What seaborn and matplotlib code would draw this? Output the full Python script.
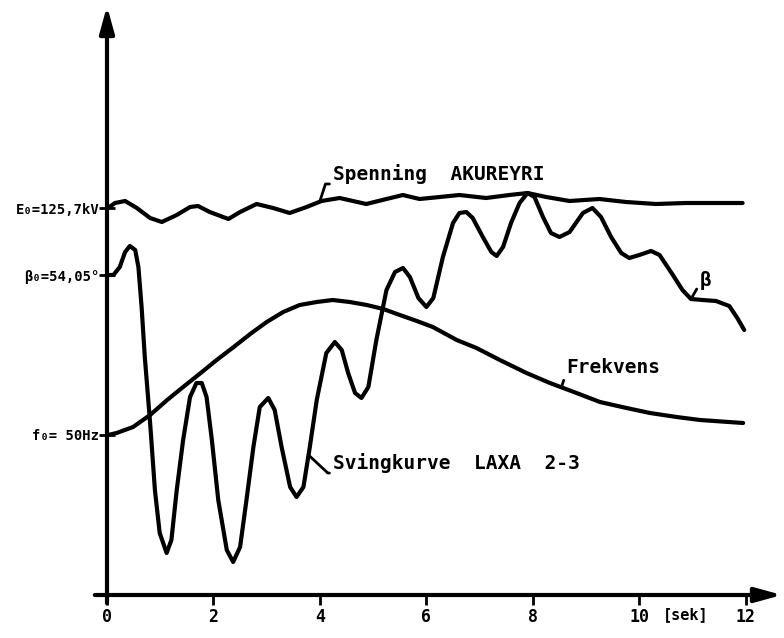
import numpy as np
import pandas as pd
import matplotlib.pyplot as plt
import seaborn as sns

# Time in seconds, curve height in arbitrary units above the time axis
spenning_t = [0.02, 0.15, 0.34, 0.56, 0.81, 1.03, 1.31, 1.56, 1.71, 1.93, 2.28, 2.50, 2.81,
              3.12, 3.43, 3.75, 4.03, 4.37, 4.87, 5.25, 5.56, 5.87, 6.25, 6.62, 7.12, 7.56,
              7.90, 8.25, 8.69, 9.25, 9.75, 10.31, 10.87, 11.94]
spenning_v = [387, 392, 394, 387, 377, 373, 380, 388, 389, 383, 376, 383, 391,
              387, 382, 388, 394, 397, 391, 396, 400, 396, 398, 400, 397, 400,
              402, 398, 394, 396, 393, 391, 392, 392]

beta_t = [0.02, 0.12, 0.24, 0.34, 0.43, 0.53, 0.59, 0.65, 0.71, 0.81, 0.90, 0.99, 1.12,
          1.21, 1.31, 1.43, 1.56, 1.68, 1.78, 1.87, 1.97, 2.09, 2.25, 2.37, 2.50, 2.62,
          2.75, 2.87, 3.03, 3.15, 3.28, 3.44, 3.56, 3.69, 3.81, 3.94, 4.12, 4.28, 4.41,
          4.53, 4.66, 4.78, 4.91, 5.06, 5.25, 5.41, 5.56, 5.69, 5.85, 6.00, 6.13, 6.31,
          6.50, 6.62, 6.75, 6.87, 7.06, 7.22, 7.32, 7.44, 7.59, 7.75, 7.90, 8.03, 8.19,
          8.34, 8.50, 8.69, 8.94, 9.12, 9.28, 9.47, 9.66, 9.81, 10.00, 10.22, 10.38,
          10.63, 10.81, 10.97, 11.19, 11.44, 11.69, 11.84, 11.97]
beta_v = [320, 320, 328, 343, 349, 345, 328, 288, 238, 172, 105, 62, 42,
          55, 105, 155, 198, 212, 212, 198, 155, 95, 45, 33, 48, 95,
          148, 188, 197, 185, 148, 108, 98, 108, 148, 195, 242, 253, 245,
          222, 202, 197, 208, 255, 305, 323, 327, 318, 297, 288, 297, 338,
          372, 382, 383, 377, 358, 343, 339, 348, 372, 392, 402, 398, 378,
          362, 358, 363, 382, 387, 378, 358, 342, 337, 340, 344, 340,
          320, 305, 296, 295, 294, 289, 277, 265]

frekvens_t = [0.02, 0.18, 0.49, 0.81, 1.13, 1.43, 1.76, 2.06, 2.38, 2.69, 3.00, 3.31, 3.62,
              3.94, 4.24, 4.56, 4.88, 5.19, 5.50, 5.82, 6.12, 6.57, 6.94, 7.38, 7.88, 8.32,
              8.82, 9.26, 9.76, 10.20, 10.70, 11.14, 11.95]
frekvens_v = [160, 162, 168, 180, 195, 208, 222, 235, 248, 261, 273, 283, 290,
              293, 295, 293, 290, 286, 280, 274, 268, 255, 247, 235, 222, 212,
              202, 193, 187, 182, 178, 175, 172]

x_ticks = [0, 2, 4, 6, 8, 10, 12]
y_tick_labels = ['E₀=125,7kV', 'β₀=54,05°', 'f₀= 50Hz']

sns.set_theme(style='white')
plt.rcParams['font.family'] = ['DejaVu Sans Mono', 'DejaVu Sans']
plt.rcParams['font.weight'] = 'bold'
plt.rcParams['text.color'] = 'black'
plt.rcParams['xtick.color'] = 'black'
plt.rcParams['ytick.color'] = 'black'

fig = plt.figure(figsize=(7.84, 6.38), dpi=100)
ax = fig.add_axes([107 / 784, 43 / 638, 675 / 784, 589 / 638])

for t, v in [(spenning_t, spenning_v), (beta_t, beta_v), (frekvens_t, frekvens_v)]:
    df = pd.DataFrame({'t': t, 'v': v})
    sns.lineplot(data=df, x='t', y='v', ax=ax, color='black', lw=3,
                 estimator=None, sort=False, solid_capstyle='round', solid_joinstyle='round')

ax.set_xlim(0, 12.68)
ax.set_ylim(0, 589)
ax.set_xlabel('')
ax.set_ylabel('')
for s in ax.spines.values():
    s.set_visible(False)

# axes drawn as arrows
arrow = dict(arrowstyle='-|>,head_length=0.8,head_width=0.22', lw=3, color='black',
             mutation_scale=20, shrinkA=0, shrinkB=0)
ax.annotate('', xy=(1, 0), xytext=(-0.018, 0), xycoords='axes fraction',
            arrowprops=arrow, annotation_clip=False)
ax.annotate('', xy=(0, 1), xytext=(0, -0.014), xycoords='axes fraction',
            arrowprops=arrow, annotation_clip=False)

ax.set_xticks(x_ticks)
ax.set_xticklabels([str(x) for x in x_ticks], fontsize=12, fontweight='bold')
ax.tick_params(axis='x', direction='out', length=7, width=2, pad=2, bottom=True, colors='black')

ax.set_yticks([spenning_v[0], beta_v[0], frekvens_v[0]])
ax.set_yticklabels(y_tick_labels, fontsize=10, fontweight='bold')
ax.tick_params(axis='y', direction='inout', length=11, width=2, pad=0, left=True, colors='black')

ax.annotate('[sek]', xy=(10.87, 0), xytext=(0, -9), textcoords='offset points',
            ha='center', va='top', fontsize=11, fontweight='bold', color='black',
            annotation_clip=False)

lead = dict(arrowstyle='-', lw=2, color='black', shrinkA=0, shrinkB=0)
ax.annotate('Spenning  AKUREYRI', xy=(4.0, 394), xytext=(4.24, 411), ha='left', va='bottom',
            fontsize=14, fontweight='bold', color='black',
            arrowprops=dict(lead, relpos=(0.05, 0), connectionstyle='angle,angleA=0,angleB=72'))
ax.annotate('Frekvens', xy=(8.54, 208), xytext=(8.63, 218), ha='left', va='bottom',
            fontsize=14, fontweight='bold', color='black',
            arrowprops=dict(lead, relpos=(0.23, 0), connectionstyle='angle,angleA=0,angleB=73'))
ax.annotate('Svingkurve  LAXA  2-3', xy=(3.785, 140), xytext=(4.24, 122), ha='left', va='bottom',
            fontsize=14, fontweight='bold', color='black',
            arrowprops=dict(lead, relpos=(0.08, 0), connectionstyle='angle,angleA=0,angleB=-43'))
ax.annotate('β', xy=(10.97, 296), xytext=(11.14, 305), ha='left', va='bottom',
            fontsize=14, fontweight='bold', color='black',
            arrowprops=dict(lead, relpos=(0, 0.35)))

fig.savefig('out.png', dpi=100, facecolor='white')
